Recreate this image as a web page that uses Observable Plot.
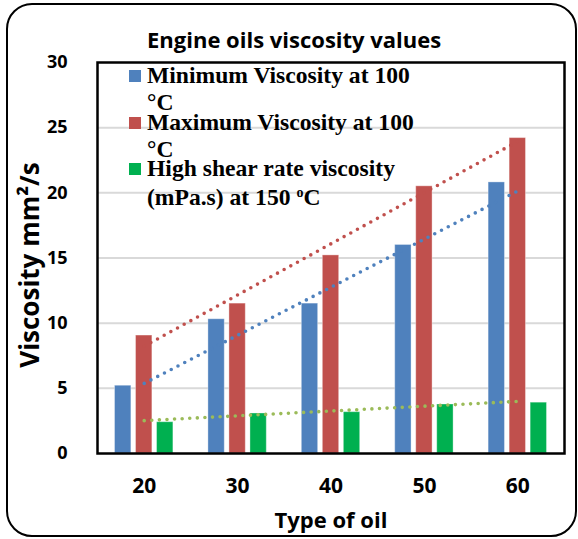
<!DOCTYPE html>
<html><head><meta charset="utf-8">
<script src="https://cdn.jsdelivr.net/npm/d3@7"></script>
<script src="https://cdn.jsdelivr.net/npm/@observablehq/plot@0.6"></script>
<style>
body{margin:0;background:#fff;}
#wrap{position:relative;width:578px;height:539px;overflow:hidden;background:#fff;}
#border{position:absolute;left:6px;top:3px;width:571px;height:534px;border:2px solid #000;border-radius:26px;box-sizing:border-box;pointer-events:none;}
#chart{position:absolute;left:0;top:0;}
#ann{position:absolute;left:0;top:0;}
</style>
</head><body>
<div id="wrap"><div id="chart"></div><svg id="ann" width="578" height="539"></svg><div id="border"></div></div>
<script>
// ---- data ----
const oilTypes = [20, 30, 40, 50, 60];
const minVisc = [5.2, 10.3, 11.5, 16.0, 20.8];
const maxVisc = [9.05, 11.5, 15.2, 20.5, 24.2];
const highShear = [2.4, 3.07, 3.17, 3.76, 3.9];
const seriesNames = ["Minimum Viscosity at 100 °C", "Maximum Viscosity at 100 °C", "High shear rate viscosity (mPa.s) at 150 ºC"];
const seriesColors = ["#4F81BD", "#C0504D", "#00B050"];
const trendColors = ["#4F81BD", "#C0504D", "#9BBB59"];
const yTicks = [0, 5, 10, 15, 20, 25, 30];
const titleText = "Engine oils viscosity values";
const xTitle = "Type of oil";
const yTitle = "Viscosity mm²/s";

const seriesValues = [minVisc, maxVisc, highShear];
const barWidth = 1.75, barStep = 2.25;
const xDomain = [15, 65];
const bars = [];
seriesValues.forEach((vals, k) => vals.forEach((v, i) => bars.push({
  type: oilTypes[i], value: v, series: seriesNames[k], k
})));

function trend(vals) {
  const mx = d3.mean(oilTypes), my = d3.mean(vals);
  let sxy = 0, sxx = 0;
  oilTypes.forEach((x, i) => { sxy += (x - mx) * (vals[i] - my); sxx += (x - mx) ** 2; });
  const b = sxy / sxx, a = my - b * mx;
  return d3.extent(oilTypes).map(x => ({x, y: a + b * x}));
}

const trendMarks = seriesValues.map((vals, k) => Plot.line(trend(vals), {
  x: "x", y: "y", stroke: trendColors[k], strokeWidth: 3.6,
  strokeDasharray: "0 7.6", strokeLinecap: "round"
}));

const chart = Plot.plot({
  width: 578, height: 539,
  marginLeft: 97, marginRight: 14, marginTop: 62, marginBottom: 86,
  x: {domain: xDomain, axis: null},
  y: {domain: [0, 30], axis: null},
  color: {domain: seriesNames, range: seriesColors},
  style: {fontFamily: "'Open Sans', sans-serif", fontWeight: "bold", color: "#000", background: "transparent"},
  marks: [
    Plot.ruleY(yTicks.filter(t => t > 0 && t < 30), {stroke: "#d9d9d9", strokeWidth: 2}),
    Plot.rectY(bars, {
      x1: d => d.type + (d.k - 1) * barStep - barWidth / 2,
      x2: d => d.type + (d.k - 1) * barStep + barWidth / 2,
      y1: 0, y2: "value", fill: "series", stroke: "#fff", strokeOpacity: 0.35, strokeWidth: 1
    }),
    ...trendMarks,
    // y tick labels
    Plot.text(yTicks, {x: xDomain[0], y: d => d, text: d => String(d), textAnchor: "end", dx: -30, fontSize: 18, fontWeight: "bold", fill: "#000"}),
    // x tick labels
    Plot.text(oilTypes, {x: d => d, y: 0, text: d => String(d), dy: 33, fontSize: 21, fontWeight: "bold", fill: "#000"}),
    Plot.frame({stroke: "#000", strokeWidth: 2.5}),
    Plot.text([xTitle], {frameAnchor: "bottom", dy: 74, fontSize: 22, fontWeight: "bold", fill: "#000"}),
    Plot.text([yTitle], {frameAnchor: "left", textAnchor: "middle", dx: -67, dy: 7, rotate: -90, fontSize: 26, fontWeight: "bold", fill: "#000"})
  ]
});
document.getElementById("chart").appendChild(chart);

// ---- title & legend ----
const ann = d3.select("#ann");
ann.append("text").attr("x", 147).attr("y", 48)
  .attr("font-family", "'Open Sans', sans-serif").attr("font-weight", "bold")
  .attr("font-size", 22).attr("fill", "#000").text(titleText);

const legLines = [
  ["Minimum Viscosity at 100", "°C"],
  ["Maximum Viscosity at 100", "°C"],
  ["High shear rate viscosity", null]
];
const legTop = [70, 117, 163];
legLines.forEach((lines, k) => {
  const g = ann.append("g");
  g.append("rect").attr("x", 129).attr("y", legTop[k]).attr("width", 12).attr("height", 12).attr("fill", seriesColors[k]);
  const t = g.append("text").attr("font-family", "'Liberation Serif', 'Times New Roman', serif")
    .attr("font-weight", "bold").attr("font-size", 23.6).attr("fill", "#000");
  t.append("tspan").attr("x", 147).attr("y", legTop[k] + 13).text(lines[0]);
  if (lines[1]) {
    t.append("tspan").attr("x", 147).attr("y", legTop[k] + 40).text(lines[1]);
  } else {
    t.append("tspan").attr("x", 147).attr("y", legTop[k] + 42).text("(mPa.s) at 150 ");
    t.append("tspan").attr("dy", -8).attr("font-size", 14).text("o");
    t.append("tspan").attr("dy", 8).text("C");
  }
});
</script>
</body></html>
